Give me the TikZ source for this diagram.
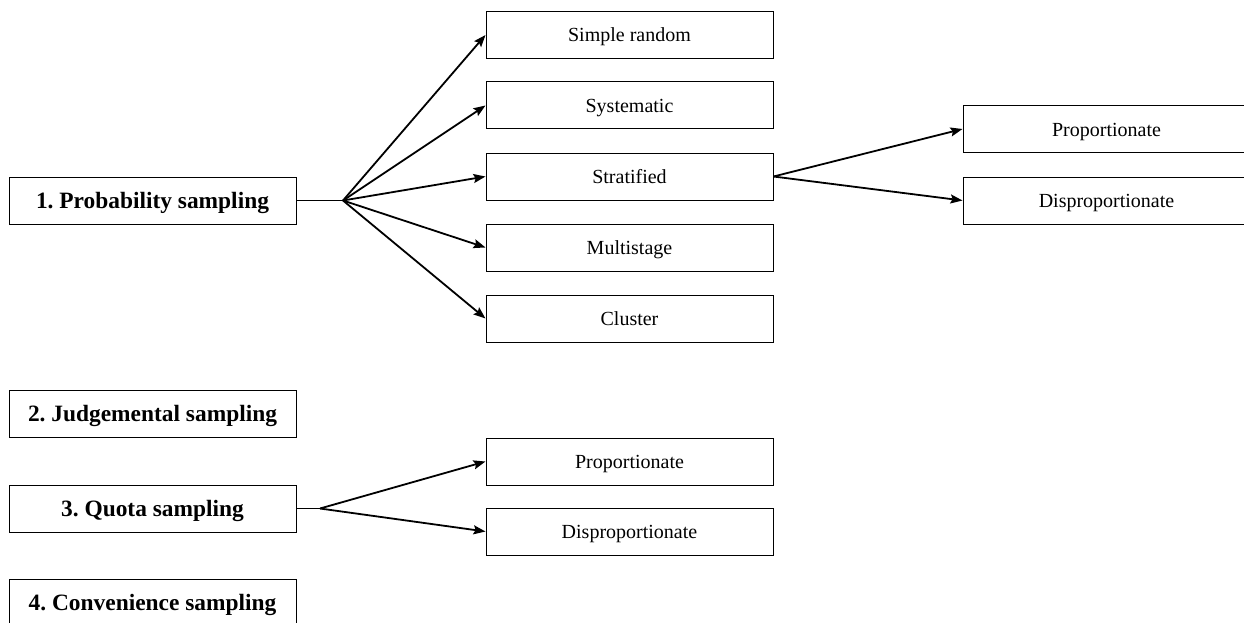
\documentclass[tikz,border=0pt]{standalone}
\usepackage{fontspec}
\setmainfont{Liberation Serif}
\usetikzlibrary{arrows.meta}
\frenchspacing
\begin{document}
\begin{tikzpicture}[x=1pt,y=-1pt,
  box/.style={draw=black,line width=1pt,rectangle,minimum width=287pt,minimum height=47pt,inner sep=0pt,anchor=center},
  mainbox/.style={box,font=\fontsize{23.4}{26}\selectfont\bfseries,text height=15pt,text depth=0pt},
  subbox/.style={box,font=\fontsize{20}{24}\selectfont,text height=14pt,text depth=0pt},
  stem/.style={line width=1pt},
  branch/.style={line width=1.8pt,-{Stealth[length=12pt,width=9pt,inset=2pt]}}]
\useasboundingbox (0,0) rectangle (1244,623);

% main categories
\node[mainbox] (prob)  at (152.5,200.5) {1. Probability sampling};
\node[mainbox] (judge) at (152.5,413.5) {2. Judgemental sampling};
\node[mainbox] (quota) at (152.5,508.5) {3. Quota sampling};
\node[mainbox] (conv)  at (152.5,602.5) {4. Convenience sampling};

% probability sampling methods
\node[subbox] (simple) at (629.5,35)    {Simple random};
\node[subbox] (syst)   at (629.5,105.5) {Systematic};
\node[subbox] (strat)  at (629.5,176.5) {Stratified};
\node[subbox] (multi)  at (629.5,247.5) {Multistage};
\node[subbox] (clust)  at (629.5,318.5) {Cluster};

% stratified sub-types
\node[subbox] (sprop)  at (1106.5,129)   {Proportionate};
\node[subbox] (sdisp)  at (1106.5,200.5) {Disproportionate};

% quota sub-types
\node[subbox] (qprop)  at (629.5,461.5) {Proportionate};
\node[subbox] (qdisp)  at (629.5,531.5) {Disproportionate};

% fork points
\coordinate (pfork) at (343,200.5);
\coordinate (qfork) at (320,508.5);

\draw[stem] (prob.east) -- (pfork);
\foreach \t in {simple,syst,strat,multi,clust}
  \draw[branch] (pfork) -- (\t.west);

\draw[branch] (strat.east) -- (sprop.west);
\draw[branch] (strat.east) -- (sdisp.west);

\draw[stem] (quota.east) -- (qfork);
\draw[branch] (qfork) -- (qprop.west);
\draw[branch] (qfork) -- (qdisp.west);
\end{tikzpicture}
\end{document}
